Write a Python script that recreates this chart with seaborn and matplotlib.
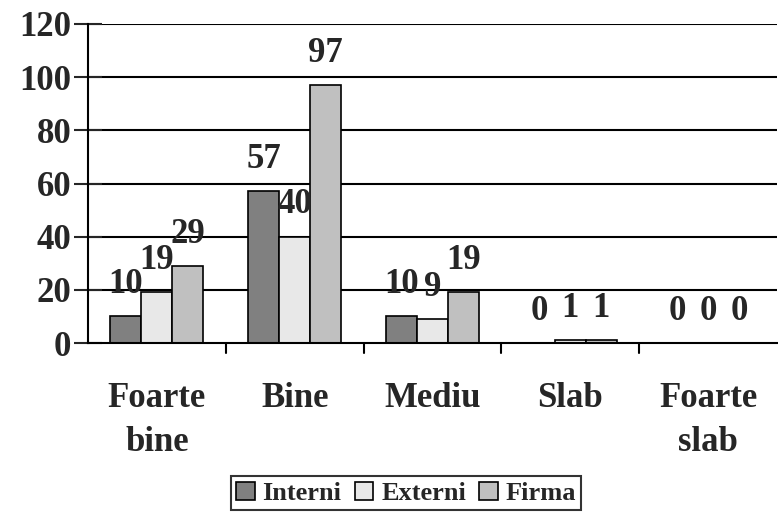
import matplotlib
matplotlib.use("Agg")
import matplotlib.pyplot as plt
import seaborn as sns
import pandas as pd
from matplotlib.patches import Patch

categories = ["Foarte\nbine", "Bine", "Mediu", "Slab", "Foarte\nslab"]
series = ["Interni", "Externi", "Firma"]
interni = [10, 57, 10, 0, 0]
externi = [19, 40, 9, 1, 0]
firma = [29, 97, 19, 1, 0]
yticks = [0, 20, 40, 60, 80, 100, 120]
colors = ["#808080", "#e8e8e8", "#c0c0c0"]

rows = []
for c, a, b, f in zip(categories, interni, externi, firma):
    rows.append((c, "Interni", a))
    rows.append((c, "Externi", b))
    rows.append((c, "Firma", f))
df = pd.DataFrame(rows, columns=["cat", "serie", "val"])

sns.set_style("white")
plt.rcParams["font.family"] = ["Liberation Serif", "DejaVu Serif"]
plt.rcParams["font.weight"] = "bold"

FS = 25

fig = plt.figure(figsize=(7.78, 5.13), dpi=100)
ax = fig.add_axes([88/778, 1-343/513, (777-88)/778, (343-24)/513])

sns.barplot(data=df, x="cat", y="val", hue="serie", order=categories,
            hue_order=series, palette=colors, width=0.675, ax=ax,
            edgecolor="black", linewidth=1.2, legend=False, saturation=1)

ax.set_ylim(0, 120)
ax.set_xlim(-0.5, 4.5)
ax.set_yticks(yticks)
ax.set_yticklabels([str(t) for t in yticks], fontsize=FS, fontweight="bold")
for y in yticks[1:]:
    ax.axhline(y, color="black", lw=1.5, zorder=0)
ax.set_axisbelow(True)

for s in ["top", "right"]:
    ax.spines[s].set_visible(False)
ax.spines["left"].set_linewidth(1.5)
ax.spines["bottom"].set_linewidth(1.5)
ax.spines["left"].set_color("black")
ax.spines["bottom"].set_color("black")

ax.tick_params(axis="y", direction="inout", length=20, width=1.5, pad=2, left=True)
ax.set_xticks(range(len(categories)))
ax.set_xticklabels(categories, fontsize=FS, fontweight="bold", linespacing=1.45)
ax.tick_params(axis="x", length=0, pad=28)
for b in [0.5, 1.5, 2.5, 3.5]:
    ax.plot([b, b], [0, -0.03], transform=ax.get_xaxis_transform(), color="black",
            lw=1.5, clip_on=False)
ax.set_xlabel("")
ax.set_ylabel("")

for cont in ax.containers:
    for bar in cont:
        h = bar.get_height()
        ax.annotate(f"{int(h)}", (bar.get_x() + bar.get_width()/2, h),
                    xytext=(0, 11), textcoords="offset points",
                    ha="center", va="bottom", fontsize=FS, fontweight="bold")

handles = [Patch(facecolor=c, edgecolor="black", lw=1.2) for c in colors]
leg = fig.legend(handles, series, loc="lower center", bbox_to_anchor=(0.522, 0.0),
                 ncol=3, frameon=True, fancybox=False, edgecolor="black",
                 prop={"family": "Liberation Serif", "weight": "bold", "size": 19},
                 handlelength=0.7, handleheight=0.7, handletextpad=0.3,
                 columnspacing=0.5, borderpad=0.2, borderaxespad=0.1)
leg.get_frame().set_linewidth(1.5)

fig.savefig("out.png", dpi=100)
